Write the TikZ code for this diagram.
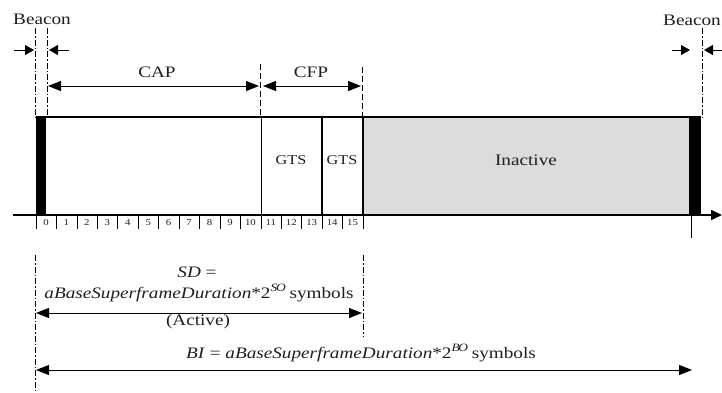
\documentclass[tikz,border=0pt]{standalone}
\usepackage{fontspec}
\setmainfont[FakeStretch=1.2]{Liberation Serif}
\usetikzlibrary{arrows.meta}
\definecolor{inact}{RGB}{220,220,220}
\definecolor{ink}{RGB}{30,30,30}
\begin{document}
\begin{tikzpicture}[x=1pt,y=-1pt,
  lbl/.style={inner sep=0pt, text=ink, font=\fontsize{16}{18}\selectfont},
  gts/.style={inner sep=0pt, text=ink, font=\fontsize{13.5}{15}\selectfont},
  num/.style={inner sep=0pt, text=ink, font=\fontsize{9}{10}\selectfont},
  tip/.tip={Triangle[length=13pt,width=10pt]},
  btip/.tip={Triangle[length=9pt,width=10pt]},
  dimline/.style={line width=1pt, tip-tip},
  ptr/.style={line width=1pt, -btip},
  ddot/.style={line width=0.7pt, dash pattern=on 6pt off 2pt on 1.5pt off 2pt},
  dsh/.style={line width=0.7pt, dash pattern=on 6pt off 3pt},
]
\useasboundingbox (0,0) rectangle (722,392);
% frame
\fill[inact] (363,117) rectangle (689,215);
\fill[black] (36,117) rectangle (46,215);
\fill[black] (689,117) rectangle (701,215);
\draw[line width=1.2pt] (36,117) -- (701,117);
\draw[line width=0.8pt] (261,117) -- (261,215);
\draw[line width=1.5pt] (322,117) -- (322,215);
\draw[line width=1.5pt] (363,117) -- (363,215);
% axis
\coordinate (axL) at (13,215);
\coordinate (axR) at (722,215);
\draw[line width=1.6pt, -{Triangle[length=11pt,width=10pt]}] (axL) -- (axR);
% slot ticks and numbers
\foreach \i in {0,...,16}{
  \draw[line width=0.6pt] ({36+\i*20.44},215) -- ({36+\i*20.44},229);
}
\foreach \i in {0,...,15}{
  \node[num] (n\i) at ({46+\i*20.44},223) {\i};
}
\coordinate (rt1) at (691,215);
\coordinate (rt2) at (691,238);
\draw[line width=0.6pt] (rt1) -- (rt2);
% labels inside
\node[gts] (gts1) at (291,160) {GTS};
\node[gts] (gts2) at (342,160) {GTS};
\node[lbl] (inact) at (526,160) {Inactive};
% top labels
\node[lbl] (beaconL) at (42,19) {Beacon};
\node[lbl, anchor=east] (beaconR) at (721,20) {Beacon};
\node[lbl] (cap) at (157,72) {CAP};
\node[lbl] (cfp) at (311,72) {CFP};
% dash-dot guide lines
\coordinate (g1a) at (35,28);  \coordinate (g1b) at (35,117);
\coordinate (g2a) at (47,28);  \coordinate (g2b) at (47,117);
\coordinate (g3a) at (260,64); \coordinate (g3b) at (260,117);
\coordinate (g4a) at (362,67); \coordinate (g4b) at (362,117);
\coordinate (g5a) at (702,28); \coordinate (g5b) at (702,117);
\coordinate (g6a) at (35,255); \coordinate (g6b) at (35,392);
\coordinate (g7a) at (363,255); \coordinate (g7b) at (363,336);
\draw[ddot] (g1a) -- (g1b);
\draw[ddot] (g2a) -- (g2b);
\draw[dsh] (g3a) -- (g3b);
\draw[dsh] (g4a) -- (g4b);
\draw[ddot] (g5a) -- (g5b);
\draw[ddot] (g6a) -- (g6b);
\draw[ddot] (g7a) -- (g7b);
% beacon arrows
\coordinate (bl1) at (14,50); \coordinate (bl2) at (34,50);
\coordinate (bl3) at (69,50); \coordinate (bl4) at (49,50);
\coordinate (br1) at (672,50); \coordinate (br2) at (690,50);
\coordinate (br3) at (724,50); \coordinate (br4) at (704,50);
\draw[ptr] (bl1) -- (bl2);
\draw[ptr] (bl3) -- (bl4);
\draw[ptr] (br1) -- (br2);
\draw[ptr] (br3) -- (br4);
% CAP / CFP arrows
\coordinate (capL) at (48,86); \coordinate (capR) at (259,86);
\coordinate (cfpL) at (263,86); \coordinate (cfpR) at (361,86);
\draw[dimline] (capL) -- (capR);
\draw[dimline] (cfpL) -- (cfpR);
% SD
\node[lbl] (sd1) at (197,272) {\textit{SD} =};
\node[lbl] (sd2) at (199,293) {\textit{aBaseSuperframeDuration}*2$^{\mathit{SO}}$ symbols};
\node[lbl] (act) at (198,322) {(Active)};
\coordinate (sdL) at (36,313); \coordinate (sdR) at (362,313);
\draw[dimline] (sdL) -- (sdR);
% BI
\node[lbl] (bi) at (361,353) {\textit{BI} = \textit{aBaseSuperframeDuration}*2$^{\mathit{BO}}$ symbols};
\coordinate (biL) at (36,370); \coordinate (biR) at (692,370);
\draw[dimline] (biL) -- (biR);
\end{tikzpicture}
\end{document}
